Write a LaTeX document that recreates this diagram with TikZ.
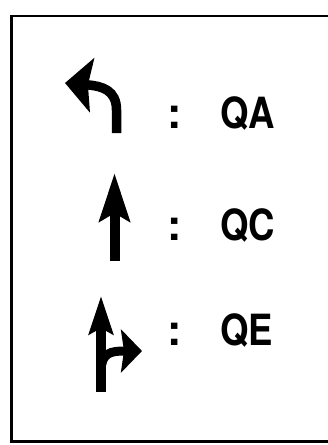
\documentclass[tikz,border=0pt]{standalone}
\usepackage{fontspec}
\usetikzlibrary{arrows.meta}
\newfontfamily\legendfont{TeX Gyre Heros}
\newcommand\lanetext[1]{\scalebox{0.85}[1]{#1}}
\tikzset{
  lane arrow/.style={
    line width=10pt,
    line cap=butt,
    draw=black,
  },
  lane label/.style={
    font=\legendfont\bfseries\fontsize{43pt}{43pt}\selectfont,
    inner sep=0pt,
    anchor=base west,
  },
  lane colon/.style={
    font=\legendfont\bfseries\fontsize{43pt}{43pt}\selectfont,
    inner sep=0pt,
    anchor=base,
  },
  legend frame/.style={line width=2.5pt, line cap=butt},
}

\begin{document}
\begin{tikzpicture}[x=1pt, y=-1pt]
  \useasboundingbox (0,0) rectangle (328,445);
  \draw[legend frame] (328,16) -- (11.5,16) -- (11.5,441.5) -- (328,441.5);

  \draw[lane arrow, line width=9.5pt, -{Stealth[length=27pt, width=54pt, inset=4pt]}]
    (116.5,133) -- (116.5,110) .. controls (116.5,90) and (102,86) .. (65,83);
  \node[lane colon] (ca) at (174.5,128) {:};
  \node[lane label] (qa) at (220,128) {\lanetext{QA}};

  \draw[lane arrow, -{Stealth[length=48pt, width=30pt, inset=8pt]}]
    (114.5,261) -- (114.5,173);
  \node[lane colon] (cc) at (174.5,240) {:};
  \node[lane label] (qc) at (220,240) {\lanetext{QC}};

  \draw[lane arrow, line width=9pt, -{Stealth[length=21pt, width=43pt, inset=3pt]}]
    (101,370) .. controls (102,353) and (110,351) .. (142,351);
  \draw[lane arrow, -{Stealth[length=38pt, width=24pt, inset=6pt]}]
    (101,392) -- (101,296);
  \node[lane colon] (ce) at (174.5,345) {:};
  \node[lane label] (qe) at (220,345) {\lanetext{QE}};
\end{tikzpicture}
\end{document}
